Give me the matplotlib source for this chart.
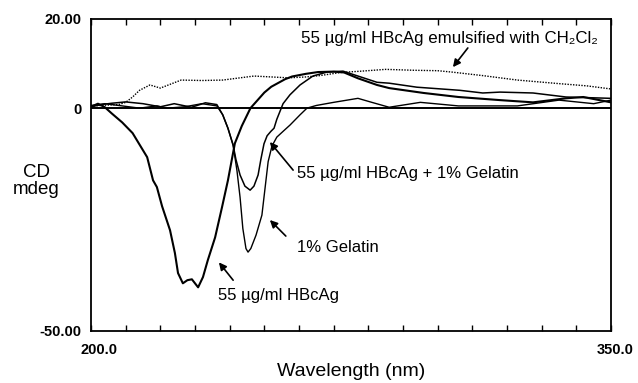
import matplotlib
matplotlib.use("Agg")
import matplotlib.pyplot as plt
from matplotlib.transforms import ScaledTranslation

plt.rcParams['font.family'] = ['Liberation Sans', 'DejaVu Sans']

# 55 ug/ml HBcAg (thick solid)
wl_hbc = [200, 202, 204, 206, 209, 212, 216.2, 217.9, 219, 220.5, 222.8, 224.2, 225.1,
          226.5, 227.8, 229.1, 230.9, 232.3, 233.7, 235.8, 237.8, 239.5, 241.5, 243.5,
          246, 250, 252, 256, 258, 262, 265.5, 270, 273, 277, 282.5, 286, 296, 306,
          318, 327.5, 337, 342, 350]
cd_hbc = [0.3, 1.0, 0.2, -1.2, -3.2, -5.6, -11, -16.2, -17.7, -22, -27.4, -32.5, -37,
          -39.3, -38.6, -38.4, -40.2, -37.9, -34.1, -29, -22.2, -16.2, -7.9, -4,
          0, 3.5, 4.8, 6.5, 7.1, 7.7, 8.1, 8.2, 8.0, 6.7, 5.2, 4.5, 3.4, 2.5,
          1.8, 1.3, 2.2, 2.5, 1.3]

# 1% Gelatin
wl_gel = [200, 204, 209, 214, 219, 222, 227, 232, 236.3, 238, 239.5, 241, 242.1, 243,
          243.8, 244.7, 245.3, 246.1, 247.6, 249.3, 250.2, 251.1, 252.2, 253.6, 255.7,
          257.4, 260.3, 262.3, 265, 270, 277, 281, 286, 295, 306, 323, 335, 345, 350]
cd_gel = [0.6, 1.0, 0.5, 0.0, 0.5, 0.0, 0.3, 1.0, 0.5, -1.5, -4.5, -8.3, -14, -20,
          -27, -31.5, -32.3, -31.5, -28.5, -24, -18, -12, -8.5, -6.5, -5,
          -3.8, -1.5, 0, 0.6, 1.3, 2.2, 1.3, 0.2, 1.3, 0.5, 0.5, 1.8, 1.0, 1.8]

# 55 ug/ml HBcAg + 1% Gelatin
wl_mix = [200, 203, 206, 210, 215, 220, 224, 229, 233, 236.3, 238, 239.5, 241, 241.8,
          243, 244.4, 245.9, 247, 248.2, 249, 249.9, 250.8, 251.9, 252.8, 253.6, 255.4,
          257.4, 260.3, 264, 268.1, 272.7, 277, 282.5, 286, 294, 306.4, 313, 318,
          327.5, 337, 350]
cd_mix = [0.3, 0.8, 1.1, 1.4, 1.0, 0.3, 1.0, 0.2, 1.2, 0.8, -1.5, -4.5, -8.3, -11.5,
          -15, -17.5, -18.4, -17.5, -15, -11.5, -8, -6.2, -5.2, -4.5, -2.5, 1.0,
          3.0, 5.2, 7.2, 8.1, 8.3, 7.2, 5.8, 5.6, 4.7, 4.0, 3.4, 3.6,
          3.4, 2.5, 2.2]

# 55 ug/ml HBcAg emulsified with CH2Cl2 (dotted)
wl_emu = [200, 205, 208, 210, 212, 214, 217, 220, 223, 226, 232, 238, 244, 247, 252,
          257, 262, 266, 272, 278, 285, 293, 300, 304, 313, 323, 335, 343, 350]
cd_emu = [0.5, 0.7, 0.8, 1.3, 2.5, 4.0, 5.2, 4.5, 5.4, 6.3, 6.2, 6.3, 6.9, 7.2, 7.0,
          6.8, 7.0, 7.3, 8.0, 8.3, 8.7, 8.5, 8.4, 8.1, 7.3, 6.3, 5.5, 5.0, 4.3]

fig = plt.figure(figsize=(6.38, 3.83), dpi=100)
ax = fig.add_axes([91 / 638, 1 - 331 / 383, 520 / 638, 312 / 383])

ax.plot(wl_emu, cd_emu, color='black', lw=1.0, ls=(0, (1, 1)))
ax.plot(wl_gel, cd_gel, color='black', lw=1.0)
ax.plot(wl_mix, cd_mix, color='black', lw=1.1)
ax.plot(wl_hbc, cd_hbc, color='black', lw=1.5)
ax.axhline(0, color='black', lw=1.4)

ax.set_xlim(200, 350)
ax.set_ylim(-50, 20)

for s in ax.spines.values():
    s.set_linewidth(1.3)

ax.set_xticks([200, 350], ['200.0', '350.0'])
ax.set_xticks(range(200, 351, 10), minor=True)
ax.set_yticks([-50, 0, 20], ['-50.00', '0', '20.00'])
ax.tick_params(axis='x', which='minor', direction='in', length=4, width=1, top=True)
ax.tick_params(axis='x', which='major', direction='in', length=4, width=1, top=True,
               pad=9, labelsize=10.5)
ax.tick_params(axis='y', which='major', direction='in', length=0, pad=7, labelsize=10.5)
for lab in ax.get_xticklabels() + ax.get_yticklabels():
    lab.set_fontweight('bold')
xl = ax.get_xticklabels()
xl[0].set_transform(xl[0].get_transform() + ScaledTranslation(0.08, 0, fig.dpi_scale_trans))
xl[1].set_transform(xl[1].get_transform() + ScaledTranslation(0.04, 0, fig.dpi_scale_trans))

fig.text(36 / 638, 1 - 181 / 383, 'CD\nmdeg', ha='center', va='center',
         fontsize=13.5, linespacing=1.0)
fig.text(351 / 638, 1 - 372 / 383, 'Wavelength (nm)', ha='center', va='center',
         fontsize=14)

arrow = dict(arrowstyle='-|>', color='black', lw=1.2, mutation_scale=11,
             shrinkA=0, shrinkB=0)
ax.annotate('', xy=(304.4, 9.2), xytext=(308.7, 13.5), arrowprops=arrow)
ax.annotate('', xy=(251.6, -7.6), xytext=(258.3, -13.9), arrowprops=arrow)
ax.annotate('', xy=(251.6, -25.1), xytext=(256.2, -28.7), arrowprops=arrow)
ax.annotate('', xy=(236.9, -34.6), xytext=(241.0, -38.6), arrowprops=arrow)

ax.text(260.5, 15.7, '55 µg/ml HBcAg emulsified with CH₂Cl₂', fontsize=12.2, va='center')
ax.text(259.4, -14.6, '55 µg/ml HBcAg + 1% Gelatin', fontsize=12, va='center')
ax.text(259.4, -31.2, '1% Gelatin', fontsize=12, va='center')
ax.text(236.6, -42.0, '55 µg/ml HBcAg', fontsize=12, va='center')

fig.savefig('out.png', dpi=100)
